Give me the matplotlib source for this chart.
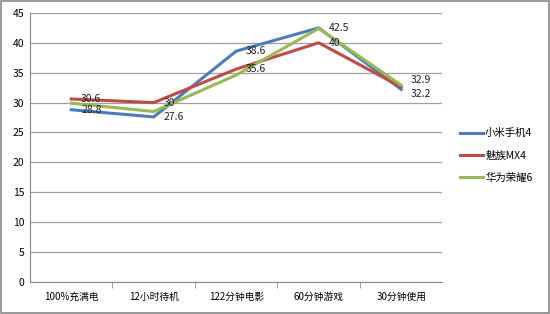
# Battery drain comparison chart
import matplotlib
matplotlib.use('Agg')
import matplotlib.pyplot as plt

plt.rcParams['font.family'] = ['Noto Sans CJK SC', 'DejaVu Sans']

# data
categories = ['100%充满电', '12小时待机', '122分钟电影', '60分钟游戏', '30分钟使用']
xiaomi = [28.8, 27.6, 38.6, 42.5, 32.2]
meizu = [30.6, 30.0, 35.6, 40.0, 32.6]
huawei = [29.9, 28.5, 34.6, 42.4, 32.9]
names = ['小米手机4', '魅族MX4', '华为荣耀6']
colors = ['#4A7EBB', '#BE4B48', '#98B954']

# which points carry a value label, and a small vertical nudge for each
labels_on = {0: {0: 0, 1: 0, 2: 0, 3: 0, 4: -0.8}, 1: {0: 0, 1: 0, 2: 0, 3: 0}, 2: {4: 0.8}}

fig = plt.figure(figsize=(5.5, 3.14), dpi=100)
ax = fig.add_axes([0.0545, 0.102, 0.75, 0.857])

x = list(range(len(categories)))
series = [xiaomi, meizu, huawei]
for vals, name, c in zip(series, names, colors):
    ax.plot(x, vals, color=c, linewidth=2.2, label=name, zorder=3)
for k, idxs in labels_on.items():
    for i, dy in idxs.items():
        ax.text(x[i] + 0.12, series[k][i] + dy, f'{series[k][i]:g}', fontsize=7.5,
                va='center', ha='left', color='#222222', zorder=4)

ax.set_xlim(-0.5, len(categories) - 0.5)
ax.set_ylim(0, 45)
ax.set_yticks(range(0, 50, 5))
ax.set_xticks(x)
ax.set_xticklabels(categories, fontsize=7)
ax.set_xticks([i + 0.5 for i in x[:-1]], minor=True)
ax.tick_params(axis='x', which='major', length=0, pad=7)
ax.tick_params(axis='x', which='minor', length=4, color='#888888')
ax.tick_params(axis='y', length=0, labelsize=7.5, pad=4)
ax.grid(axis='y', color='#A0A0A0', linewidth=0.9)
ax.set_axisbelow(True)
for s in ['top', 'right']:
    ax.spines[s].set_visible(False)
for s in ['left', 'bottom']:
    ax.spines[s].set_color('#888888')

ax.legend(loc='center left', bbox_to_anchor=(1.02, 0.47), frameon=False,
          fontsize=7.5, handlelength=2.2, handletextpad=0.2, labelspacing=1.15)

# outer gray border
fig.patches.append(plt.Rectangle((0.002, 0.003), 0.996, 0.994, transform=fig.transFigure,
                                 fill=False, edgecolor='#888888', linewidth=1.2))

plt.savefig('out.png', dpi=100)
